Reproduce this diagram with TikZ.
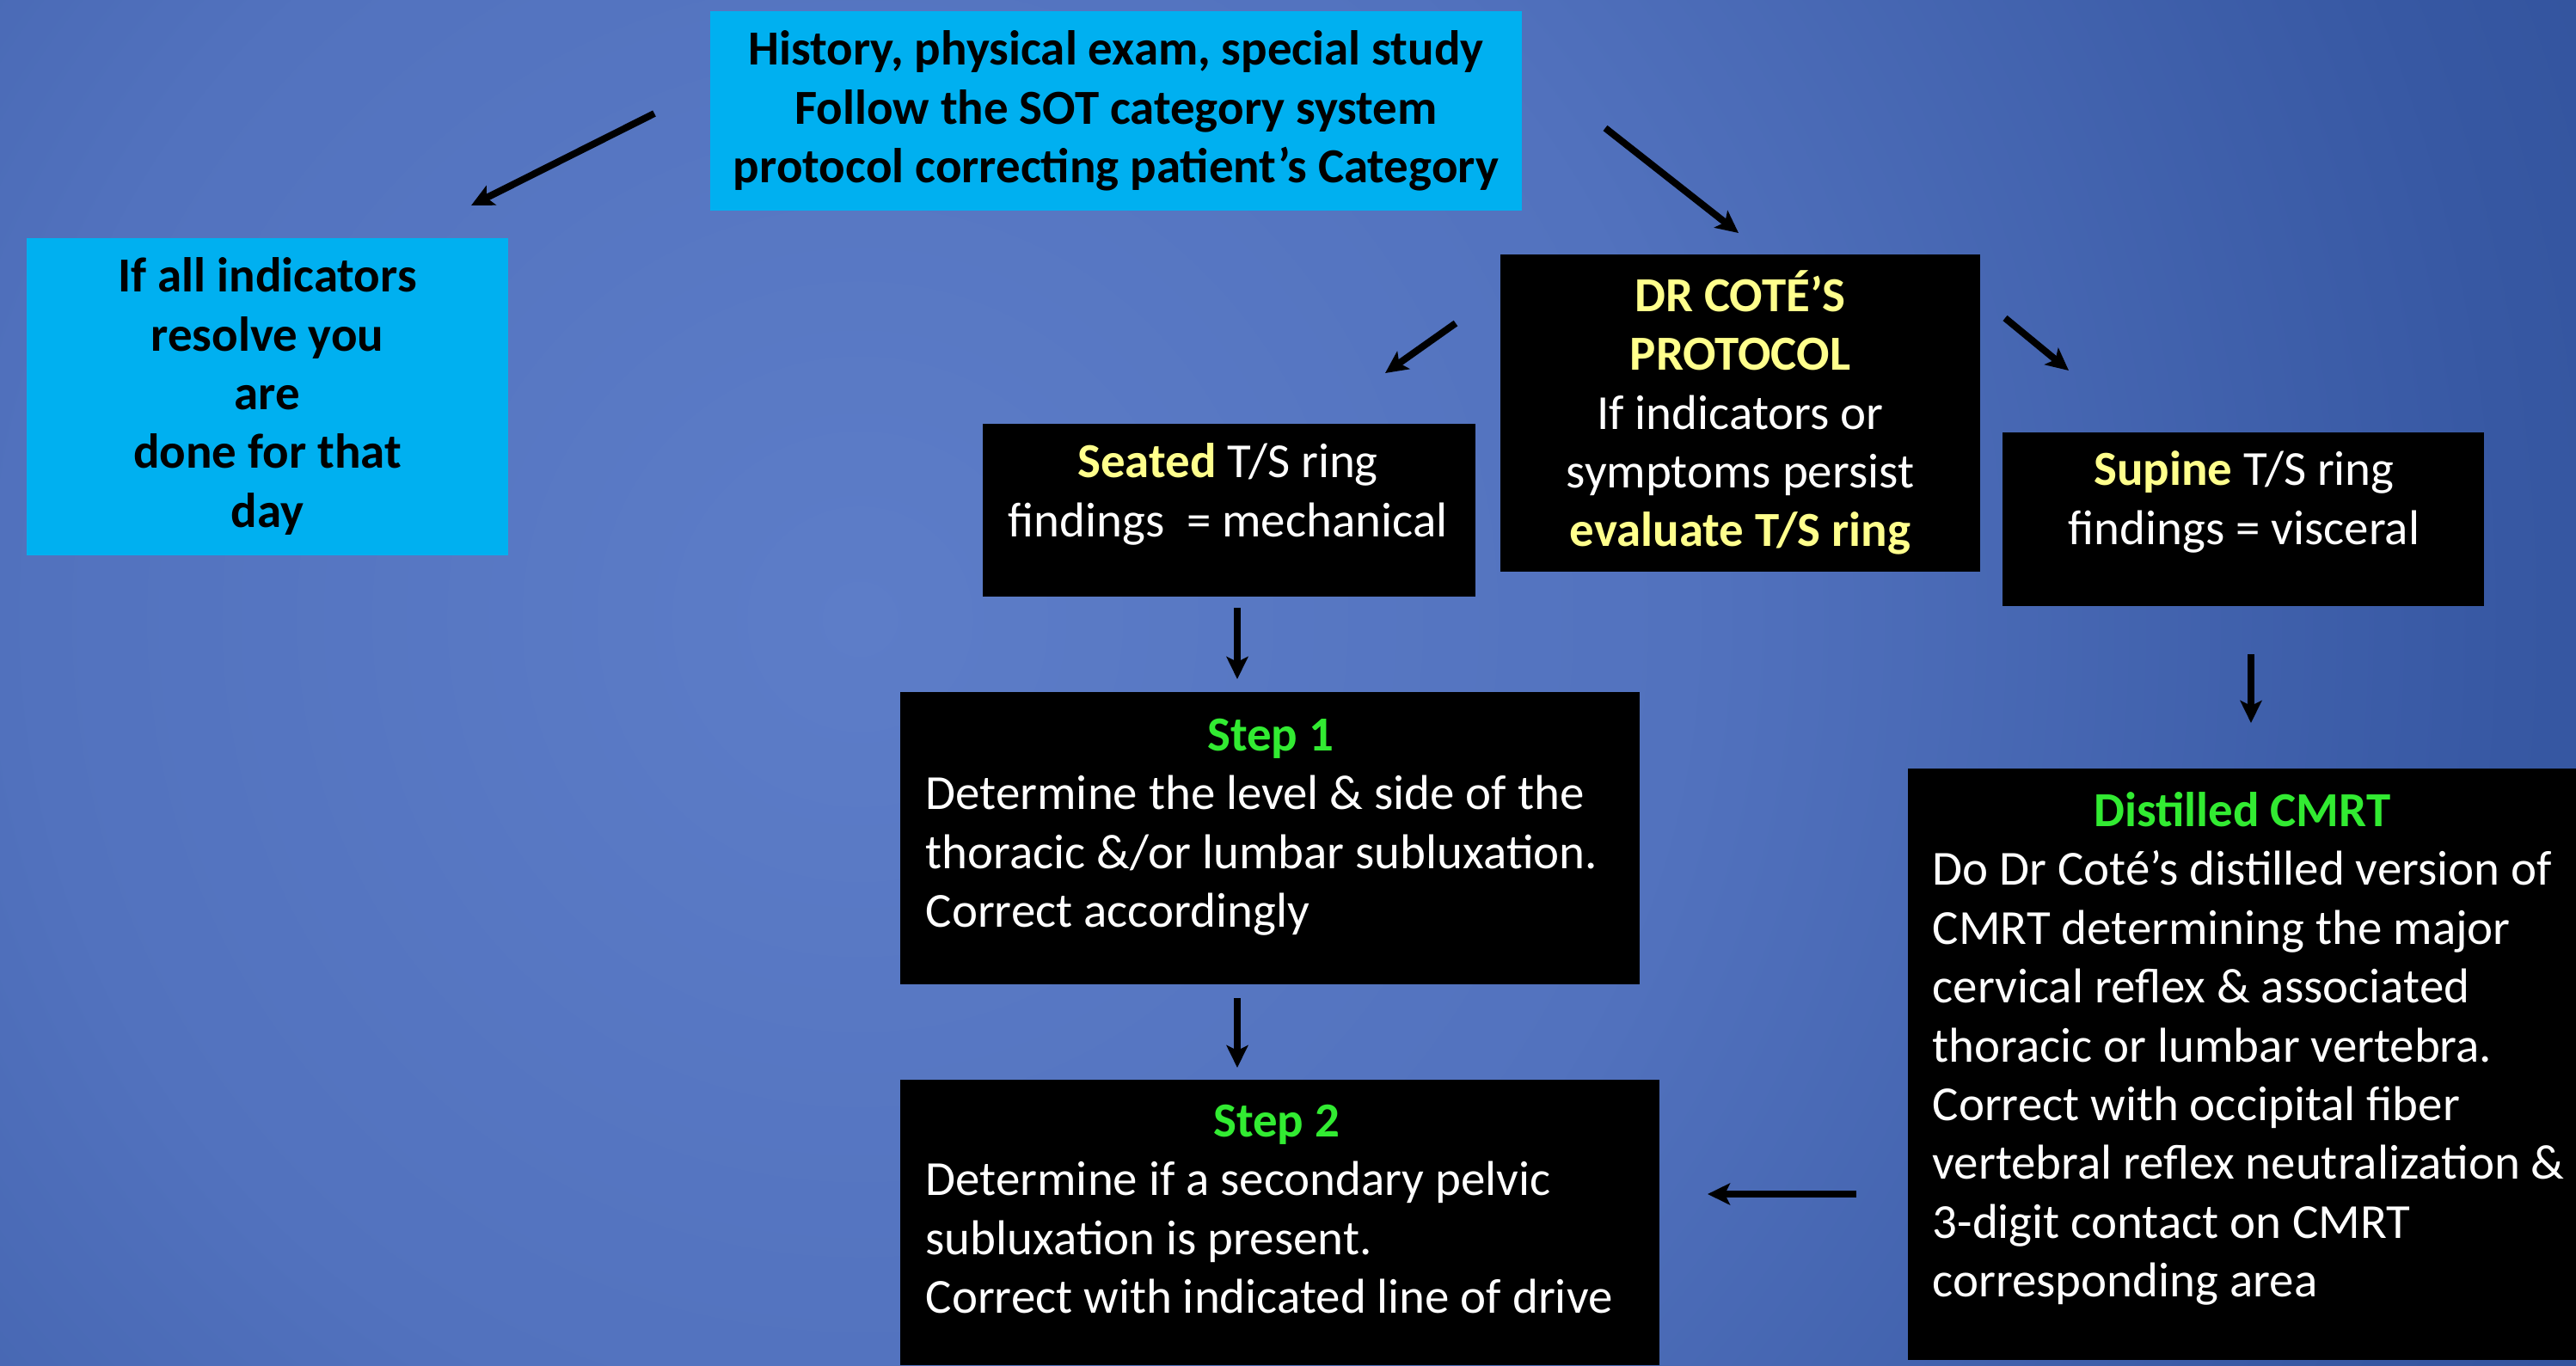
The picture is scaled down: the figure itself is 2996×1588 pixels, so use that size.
\documentclass[tikz,border=0pt]{standalone}
\usepackage{fontspec}
\setmainfont{Carlito}
\usetikzlibrary{arrows.meta,fit}

\definecolor{skyfill}{RGB}{0,176,240}
\definecolor{hiyellow}{RGB}{255,255,140}
\definecolor{higreen}{RGB}{50,235,50}
\definecolor{bgA}{RGB}{93,125,200}
\definecolor{bgB}{RGB}{82,114,190}
\definecolor{bgC}{RGB}{55,88,163}
\definecolor{bgD}{RGB}{33,66,138}
\definecolor{bgE}{RGB}{30,62,132}

% slide background: light centre fading to deep blue
\pgfdeclareradialshading{slidebg}{\pgfpoint{0bp}{0bp}}{%
  color(0bp)=(bgA); color(6bp)=(bgB); color(12bp)=(bgC);
  color(20bp)=(bgD); color(25bp)=(bgE); color(50bp)=(bgE)}

% centred green heading inside a left-aligned text block
\newcommand\boxtitle[2]{\makebox[#1][c]{\strut\textcolor{higreen}{\bfseries #2}}}

\begin{document}
\begin{tikzpicture}[x=0.1mm,y=-0.1mm,
  every node/.style={font=\fontsize{16.2}{19.45}\selectfont},
  cyanbox/.style={fill=skyfill, inner sep=0, text=black,
    font=\fontsize{16.2}{19.45}\selectfont\bfseries, align=center},
  darkbox/.style={fill=black, inner sep=0},
  lbl/.style={text=white, inner sep=0, align=center},
  bodytext/.style={text=white, inner sep=0, align=left, anchor=north west},
  arr/.style={line width=0.8mm, line cap=butt,
    -{Stealth[length=2.6mm,width=2.5mm,inset=0.6mm]}}]

\useasboundingbox (0,0) rectangle (2996,1588);
\fill[bgE] (0,0) rectangle (2996,1588);
\begin{scope}
  \clip (0,0) rectangle (2996,1588);
  \shade[shading=slidebg] (1000,720) circle[radius=400mm];
\end{scope}

% boxes
\node[cyanbox, minimum width=94.4mm, minimum height=23.2mm] (top) at (1298,129)
  {History, physical exam, special study\\
   Follow the SOT category system\\
   protocol correcting patient’s Category};

\node[cyanbox, minimum width=56.0mm, minimum height=36.9mm] (done) at (311,461)
  {If all indicators\\resolve you\\are\\done for that\\day};

\node[darkbox, lbl, minimum width=55.8mm, minimum height=36.9mm] (drcote) at (2024,480)
  {\textcolor{hiyellow}{\bfseries DR COTÉ’S}\\
   \textcolor{hiyellow}{\bfseries PROTOCOL}\\
   If indicators or\\
   symptoms persist\\
   \textcolor{hiyellow}{\bfseries evaluate T/S ring}};

\node[darkbox, fit={(1143,493) (1716,694)}] (seated) {};
\node[lbl] (seatedtext) at (1428,575)
  {\textcolor{hiyellow}{\bfseries Seated} T/S ring\\findings~ = mechanical};

\node[darkbox, fit={(2329,503) (2889,705)}] (supine) {};
\node[lbl] (supinetext) at (2610,584)
  {\textcolor{hiyellow}{\bfseries Supine} T/S ring\\findings = visceral};

\node[darkbox, fit={(1047,805) (1907,1145)}] (step1) {};
\node[bodytext] (step1text) at (1076,825)
  {\boxtitle{80.2mm}{Step 1}\\
   Determine the level \& side of the\\
   thoracic \&/or lumbar subluxation.\\
   Correct accordingly};

\node[darkbox, fit={(1047,1256) (1930,1588)}] (step2) {};
\node[bodytext] (step2text) at (1076,1274)
  {\boxtitle{81.6mm}{Step 2}\\
   Determine if a secondary pelvic\\
   subluxation is present.\\
   Correct with indicated line of drive};

\node[darkbox, fit={(2219,894) (2996,1582)}] (cmrt) {};
\node[bodytext] (cmrttext) at (2247,913)
  {\boxtitle{72.0mm}{Distilled CMRT}\\
   Do Dr Coté’s distilled version of\\
   CMRT determining the major\\
   cervical reflex \& associated\\
   thoracic or lumbar vertebra.\\
   Correct with occipital fiber\\
   vertebral reflex neutralization \&\\
   3-digit contact on CMRT\\
   corresponding area};

% free-standing arrows between the boxes
\coordinate (topL)  at (761,132);   \coordinate (doneT)  at (548,239);
\coordinate (topR)  at (1867,149);  \coordinate (drT)    at (2022,271);
\coordinate (drL)   at (1693,376);  \coordinate (seatT)  at (1611,434);
\coordinate (drR)   at (2332,370);  \coordinate (supT)   at (2406,431);
\coordinate (seatB) at (1439,707);  \coordinate (s1T)    at (1439,790);
\coordinate (supB)  at (2618,761);  \coordinate (cmrtT)  at (2618,841);
\coordinate (s1B)   at (1439,1161); \coordinate (s2T)    at (1439,1242);
\coordinate (cmrtL) at (2159,1389); \coordinate (s2R)    at (1986,1389);

\draw[arr] (topL) -- (doneT);
\draw[arr] (topR) -- (drT);
\draw[arr] (drL) -- (seatT);
\draw[arr] (drR) -- (supT);
\draw[arr] (seatB) -- (s1T);
\draw[arr] (supB) -- (cmrtT);
\draw[arr] (s1B) -- (s2T);
\draw[arr] (cmrtL) -- (s2R);
\end{tikzpicture}
\end{document}
